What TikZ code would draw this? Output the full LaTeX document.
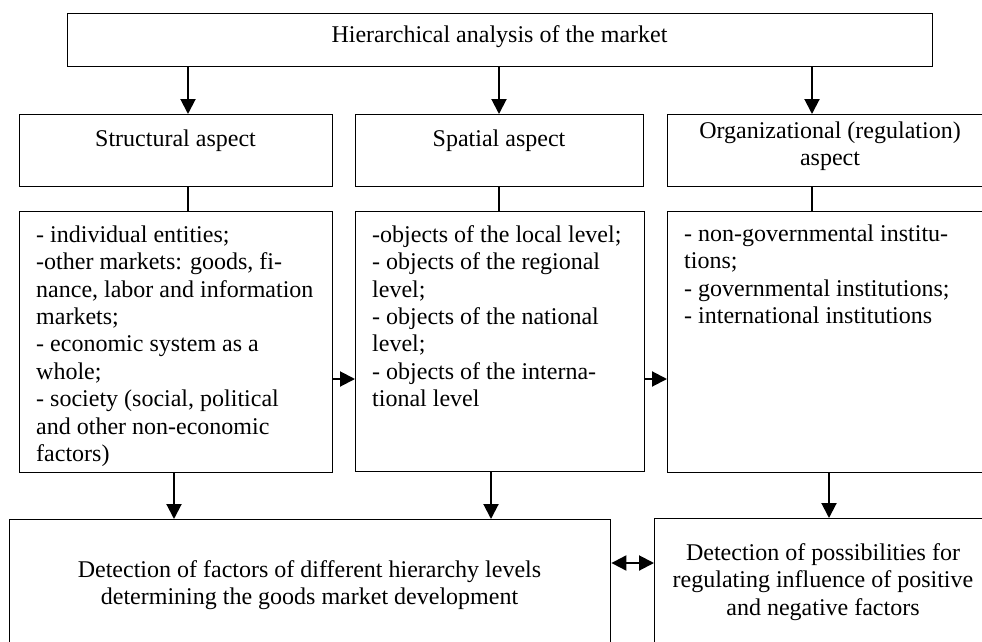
\documentclass[tikz,border=0pt]{standalone}
\usepackage{fontspec}
\setmainfont{Liberation Serif}
\usetikzlibrary{arrows.meta}
\begin{document}
\begin{tikzpicture}[x=1pt,y=-1pt,
  box/.style={draw, line width=1.4pt, rectangle, inner sep=0pt, anchor=north west},
  txt/.style={font=\fontsize{24}{27.4}\selectfont, inner sep=0pt},
  arr/.style={line width=2pt, -{Triangle[length=15pt,width=15pt]}},
  dblarr/.style={line width=2pt, {Triangle[length=15pt,width=15pt]}-{Triangle[length=15pt,width=15pt]}},
  link/.style={line width=1.1pt}]
\clip (0,0) rectangle (982,642);
% boxes
\node[box, minimum width=865pt, minimum height=53pt] (top) at (67,13) {};
\node[box, minimum width=313pt, minimum height=72pt] (s2) at (19,114) {};
\node[box, minimum width=288pt, minimum height=72pt] (p2) at (355,114) {};
\node[box, minimum width=326pt, minimum height=72pt] (o2) at (667,114) {};
\node[box, minimum width=313pt, minimum height=261pt] (s3) at (19,211) {};
\node[box, minimum width=289pt, minimum height=260pt] (p3) at (355,211) {};
\node[box, minimum width=326pt, minimum height=261pt] (o3) at (667,211) {};
\node[box, minimum width=601pt, minimum height=140pt] (b1) at (9,519) {};
\node[box, minimum width=340pt, minimum height=140pt] (b2) at (654,518) {};
% texts
\node[txt, anchor=base] (toptxt) at (499.5,43) {Hierarchical analysis of the market};
\node[txt, anchor=base] (s2txt) at (175.5,146) {Structural aspect};
\node[txt, anchor=base] (p2txt) at (499,146) {Spatial aspect};
\node[txt, anchor=north, align=center] (o2txt) at (830,138-19.18) {\strut Organizational (regulation)\\aspect};
\node[txt, anchor=north west, align=left] (s3txt) at (36,242-19.18) {\strut - individual entities;\\-other markets: goods, fi-\\nance, labor and information\\markets;\\- economic system as a\\whole;\\- society (social, political\\and other non-economic\\factors)};
\node[txt, anchor=north west, align=left] (p3txt) at (372,242-19.18) {\strut -objects of the local level;\\- objects of the regional\\level;\\- objects of the national\\level;\\- objects of the interna-\\tional level};
\node[txt, anchor=north west, align=left] (o3txt) at (684,241-19.18) {\strut - non-governmental institu-\\tions;\\- governmental institutions;\\- international institutions};
\node[txt, anchor=north, align=center] (b1txt) at (309.5,577-19.18) {\strut Detection of factors of different hierarchy levels\\determining the goods market development};
\node[txt, anchor=north, align=center] (b2txt) at (823,560-19.18) {\strut Detection of possibilities for\\regulating influence of positive\\and negative factors};
% connector columns
\coordinate (xa) at (188,0);
\coordinate (xb) at (499,0);
\coordinate (xc) at (812,0);
\coordinate (xd) at (174,0);
\coordinate (xe) at (491,0);
\coordinate (xf) at (829,0);
\coordinate (ya) at (0,379);
\coordinate (yb) at (0,563);
% arrows
\draw[arr] (xa |- top.south) -- (xa |- s2.north);
\draw[arr] (xb |- top.south) -- (xb |- p2.north);
\draw[arr] (xc |- top.south) -- (xc |- o2.north);
\draw[link] (xa |- s2.south) -- (xa |- s3.north);
\draw[link] (xb |- p2.south) -- (xb |- p3.north);
\draw[link] (xc |- o2.south) -- (xc |- o3.north);
\draw[arr] (s3.east |- ya) -- (p3.west |- ya);
\draw[arr] (p3.east |- ya) -- (o3.west |- ya);
\draw[arr] (xd |- s3.south) -- (xd |- b1.north);
\draw[arr] (xe |- p3.south) -- (xe |- b1.north);
\draw[arr] (xf |- o3.south) -- (xf |- b2.north);
\draw[dblarr] (b1.east |- yb) -- (b2.west |- yb);
\end{tikzpicture}
\end{document}
